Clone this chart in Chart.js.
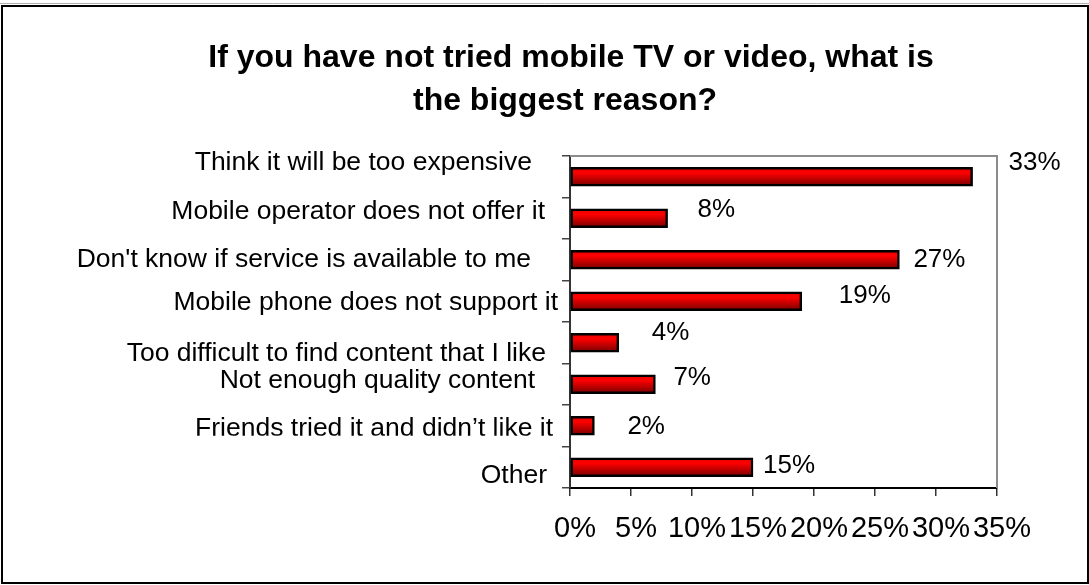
<!DOCTYPE html>
<html>
<head>
<meta charset="utf-8">
<title>Mobile TV - raisons</title>
<script src="https://cdn.jsdelivr.net/npm/chart.js@4.4.0/dist/chart.umd.min.js"></script>
<style>
  html, body { margin: 0; padding: 0; background: #fff; }
</style>
</head>
<body>
<canvas id="chartRaisons" width="1089" height="585"></canvas>
<script>
const titre = ['If you have not tried mobile TV or video, what is', 'the biggest reason?'];
const raisons = [
  'Think it will be too expensive',
  'Mobile operator does not offer it',
  "Don't know if service is available to me",
  'Mobile phone does not support it',
  'Too difficult to find content that I like',
  'Not enough quality content',
  'Friends tried it and didn\u2019t like it',
  'Other'
];
const pourcentages = [33, 8, 27, 19, 4, 7, 2, 15];
const ticksX = [0, 5, 10, 15, 20, 25, 30, 35];

// décalages des étiquettes (x, y) par rapport au bout de la barre / à l'axe
const decalValeurs = [[36, -14], [30, -8], [14, 0], [37, -5], [33, -10], [18, -6], [33, 1], [10, -1]];
const decalRaisons = [[-38, -14], [-25, -7], [-39, 0], [-12, 1], [-24, 11], [-35, -4], [-17, 3], [-23, 8]];

const police = '"Liberation Sans", Arial, sans-serif';
Chart.defaults.font.family = police;
Chart.defaults.color = '#000';

function degradeBarre(c) {
  const chart = c.chart;
  const y = chart.scales.y;
  if (!y || c.dataIndex === undefined) return '#d00000';
  const cy = y.getPixelForValue(c.dataIndex);
  if (!Number.isFinite(cy)) return '#d00000';
  const g = chart.ctx.createLinearGradient(0, cy - 10, 0, cy + 10);
  g.addColorStop(0, '#e00000');
  g.addColorStop(0.3, '#ff0000');
  g.addColorStop(1, '#700000');
  return g;
}

const cadre = {
  id: 'cadre',
  beforeDraw(chart) {
    const ctx = chart.ctx;
    ctx.save();
    ctx.fillStyle = '#fff';
    ctx.fillRect(0, 0, chart.width, chart.height);
    ctx.strokeStyle = '#b0b0b0';
    ctx.lineWidth = 1;
    ctx.beginPath();
    ctx.moveTo(0, 3.5);
    ctx.lineTo(chart.width, 3.5);
    ctx.stroke();
    ctx.strokeStyle = '#000';
    ctx.lineWidth = 2;
    ctx.strokeRect(2, 6, chart.width - 3, chart.height - 8);
    ctx.restore();
  },
  beforeDatasetsDraw(chart) {
    const a = chart.chartArea;
    const ctx = chart.ctx;
    ctx.save();
    ctx.strokeStyle = '#8c8c8c';
    ctx.lineWidth = 2;
    ctx.beginPath();
    ctx.moveTo(a.left, a.top);
    ctx.lineTo(a.right, a.top);
    ctx.lineTo(a.right, a.bottom);
    ctx.stroke();
    ctx.restore();
  },
  afterDraw(chart) {
    const ctx = chart.ctx;
    const a = chart.chartArea;
    const y = chart.scales.y;
    ctx.save();
    ctx.fillStyle = '#000';

    // titre
    ctx.font = 'bold 32px ' + police;
    ctx.textAlign = 'center';
    ctx.textBaseline = 'alphabetic';
    ctx.fillText(titre[0], 571, 67);
    ctx.fillText(titre[1], 565, 110);

    // libellés des raisons
    ctx.font = '26.5px ' + police;
    ctx.textAlign = 'right';
    ctx.textBaseline = 'middle';
    raisons.forEach((r, i) => {
      const cy = y.getPixelForValue(i);
      const [dx, dy] = decalRaisons[i];
      ctx.save();
      if (i === 6) {
        // libellé coupé en bas
        ctx.beginPath();
        ctx.rect(0, 0, a.left, cy + 10);
        ctx.clip();
      }
      ctx.fillText(r, a.left + dx, cy + dy);
      ctx.restore();
    });

    // valeurs
    ctx.font = '26px ' + police;
    ctx.textAlign = 'left';
    const meta = chart.getDatasetMeta(0);
    meta.data.forEach((bar, i) => {
      const [dx, dy] = decalValeurs[i];
      ctx.fillText(pourcentages[i] + '%', bar.x + dx, bar.y + dy);
    });
    ctx.restore();
  }
};

new Chart(document.getElementById('chartRaisons').getContext('2d'), {
  type: 'bar',
  data: {
    labels: raisons,
    datasets: [{
      data: pourcentages,
      backgroundColor: degradeBarre,
      borderColor: '#000',
      borderWidth: 2.5,
      borderSkipped: false,
      barThickness: 19
    }]
  },
  options: {
    indexAxis: 'y',
    responsive: false,
    animation: false,
    layout: { padding: { left: 0, top: 156, right: 92, bottom: 0 } },
    plugins: {
      legend: { display: false },
      title: { display: false },
      tooltip: { enabled: false }
    },
    scales: {
      x: {
        min: 0,
        max: 35,
        afterBuildTicks: (s) => { s.ticks = ticksX.map(v => ({ value: v })); },
        afterFit: (s) => { s.height = 97; },
        ticks: {
          font: { size: 29 },
          padding: 16,
          labelOffset: 5,
          maxRotation: 0,
          autoSkip: false,
          callback: (v) => v + '%'
        },
        grid: { drawOnChartArea: false, tickLength: 8, color: '#333', lineWidth: 1.5 },
        border: { color: '#000', width: 2 }
      },
      y: {
        afterFit: (s) => { s.width = 570; },
        ticks: { display: false },
        grid: { drawOnChartArea: false, tickLength: 8, color: '#444', lineWidth: 1.5, offset: true },
        border: { color: '#333', width: 2 }
      }
    }
  },
  plugins: [cadre]
});
</script>
</body>
</html>
